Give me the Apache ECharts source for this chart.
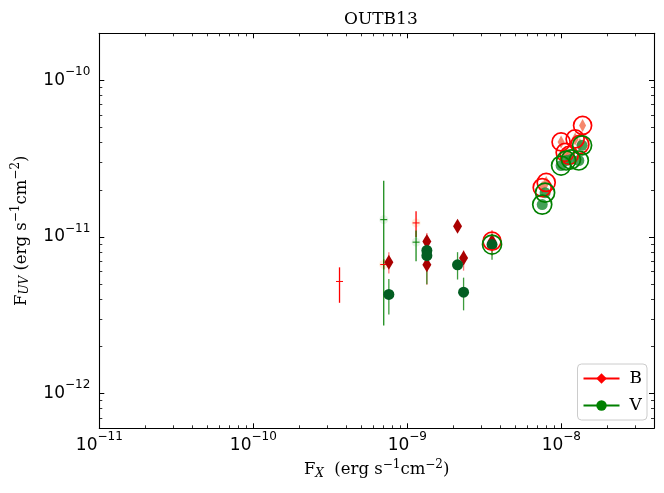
<!DOCTYPE html>
<html>
<head>
<meta charset="utf-8">
<script src="https://cdn.jsdelivr.net/npm/echarts@6/dist/echarts.min.js"></script>
<style>
  html, body { margin: 0; padding: 0; background: #fff; }
  #chart { width: 664px; height: 493px; }
</style>
</head>
<body>
<div id="chart"></div>
<script>
'use strict'

/******************** DATA (fluxes, erg s^-1 cm^-2) ********************/
// B band, detected points (dark diamonds) with error bars
var bX  = [7.59e-10, 1.34e-9, 1.34e-9, 2.12e-9, 2.32e-9, 3.55e-9];
var bY  = [6.9e-12, 9.35e-12, 6.64e-12, 1.17e-11, 7.33e-12, 9.4e-12];
var bLo = [5.85e-12, 8.0e-12, 4.95e-12, 1.08e-11, 6.1e-12, 7.6e-12];
var bHi = [8.0e-12, 1.06e-11, 7.8e-12, 1.27e-11, 8.2e-12, 1.11e-11];

// V band, detected points (dark circles) with error bars
var vX  = [7.59e-10, 1.34e-9, 1.34e-9, 2.12e-9, 2.32e-9, 3.55e-9];
var vY  = [4.3e-12, 8.2e-12, 7.6e-12, 6.64e-12, 4.44e-12, 8.95e-12];
var vLo = [3.2e-12, 6.8e-12, 5.0e-12, 5.35e-12, 3.4e-12, 7.15e-12];
var vHi = [5.4e-12, 1.0e-11, 9.0e-12, 8.0e-12, 5.5e-12, 1.05e-11];

// faint "+" points
var bpX  = [3.63e-10, 7.03e-10, 1.14e-9];
var bpY  = [5.2e-12, 6.67e-12, 1.23e-11];
var bpLo = [3.8e-12, 6.2e-12, 1.0e-11];
var bpHi = [6.4e-12, 7.2e-12, 1.46e-11];

var vpX  = [7.03e-10, 1.14e-9];
var vpY  = [1.29e-11, 9.27e-12];
var vpLo = [2.72e-12, 7.0e-12];
var vpHi = [2.29e-11, 1.1e-11];

// ringed points (the first one of each is also a detected point above)
var brX = [3.55e-9, 7.52e-9, 7.98e-9, 9.97e-9, 1.06e-8, 1.125e-8, 1.23e-8, 1.32e-8, 1.375e-8];
var brY = [9.4e-12, 2.07e-11, 2.23e-11, 4.05e-11, 3.47e-11, 3.32e-11, 4.23e-11, 3.9e-11, 5.16e-11];
var vrX = [3.55e-9, 7.52e-9, 7.85e-9, 9.97e-9, 1.076e-8, 1.156e-8, 1.30e-8, 1.365e-8];
var vrY = [8.95e-12, 1.61e-11, 1.92e-11, 2.86e-11, 3.08e-11, 3.13e-11, 3.08e-11, 3.85e-11];

// axis limits and major ticks (decades)
var xLim = [1e-11, 4e-8];
var yLim = [6e-13, 2e-10];
var xMajor = [-11, -10, -9, -8];
var yMajor = [-12, -11, -10];

/******************** helpers ********************/
var lg = Math.log10;

function pts(xs, ys) {
  return xs.map(function (x, i) { return [lg(x), lg(ys[i])]; });
}
function bars(xs, ys, lo, hi) {
  return xs.map(function (x, i) { return [lg(x), lg(ys[i]), lg(lo[i]), lg(hi[i])]; });
}
function minors(lim) {
  var out = [];
  for (var k = Math.floor(lg(lim[0])); k <= Math.ceil(lg(lim[1])); k++) {
    for (var m = 2; m <= 9; m++) {
      var v = lg(m) + k;
      if (v > lg(lim[0]) && v < lg(lim[1])) out.push(v);
    }
  }
  return out;
}

var SERIF = 'DejaVu Serif';
var SANS = 'DejaVu Sans';

var tickRich = {
  b: { fontSize: 17, fontFamily: SANS, color: '#000', verticalAlign: 'middle' },
  s: { fontSize: 12, fontFamily: SANS, color: '#000', verticalAlign: 'middle', padding: [0, 0, 17, 0] }
};
function tickFmt(v) {
  return '{b|10}{s|\u2212' + Math.abs(Math.round(v)) + '}';
}
var nameRich = {
  n: { fontSize: 16.5, fontFamily: SERIF, color: '#000', verticalAlign: 'middle' },
  sub: { fontSize: 12, fontFamily: SERIF, fontStyle: 'italic', color: '#000', verticalAlign: 'middle', padding: [8, 0, 0, 0] },
  sup: { fontSize: 12, fontFamily: SERIF, color: '#000', verticalAlign: 'middle', padding: [0, 0, 10, 0] }
};

function majorAxis(lim, vals, pos, labels) {
  return {
    type: 'value', position: pos,
    min: lg(lim[0]), max: lg(lim[1]),
    axisLine: { show: true, onZero: false, lineStyle: { color: '#000', width: 1.1 } },
    axisTick: { show: true, inside: true, length: 5, customValues: vals, lineStyle: { color: '#000', width: 1 } },
    axisLabel: labels ? { show: true, customValues: vals, formatter: tickFmt, rich: tickRich, margin: pos === 'bottom' ? 3 : 9 } : { show: false },
    splitLine: { show: false }
  };
}
function minorAxis(lim, pos) {
  return {
    type: 'value', position: pos,
    min: lg(lim[0]), max: lg(lim[1]),
    axisLine: { show: false },
    axisTick: { show: true, inside: true, length: 3, customValues: minors(lim), lineStyle: { color: '#000', width: 0.8 } },
    axisLabel: { show: false },
    splitLine: { show: false }
  };
}

var xAxes = [
  majorAxis(xLim, xMajor, 'bottom', true),
  majorAxis(xLim, xMajor, 'top', false),
  minorAxis(xLim, 'bottom'),
  minorAxis(xLim, 'top')
];
xAxes[0].name = '{n|F}{sub|X}{n|  (erg s}{sup|\u22121}{n|cm}{sup|\u22122}{n|)}';
xAxes[0].nameLocation = 'middle';
xAxes[0].nameGap = 28;
xAxes[0].nameTextStyle = { rich: nameRich };

var yAxes = [
  majorAxis(yLim, yMajor, 'left', true),
  majorAxis(yLim, yMajor, 'right', false),
  minorAxis(yLim, 'left'),
  minorAxis(yLim, 'right')
];
yAxes[0].name = '{n|F}{sub|UV}{n| (erg s}{sup|\u22121}{n|cm}{sup|\u22122}{n|)}';
yAxes[0].nameLocation = 'middle';
yAxes[0].nameGap = 67;
yAxes[0].nameTextStyle = { rich: nameRich };

function errSeries(data, color, width, opacity) {
  return {
    type: 'custom', silent: true,
    data: data,
    encode: { x: 0, y: [1, 2, 3] },
    renderItem: function (params, api) {
      var p1 = api.coord([api.value(0), api.value(2)]);
      var p2 = api.coord([api.value(0), api.value(3)]);
      return {
        type: 'line',
        shape: { x1: p1[0], y1: p1[1], x2: p2[0], y2: p2[1] },
        style: { stroke: color, lineWidth: width, opacity: opacity }
      };
    }
  };
}
function plusSeries(data, color) {
  return {
    type: 'custom', silent: true,
    data: data,
    renderItem: function (params, api) {
      var p = api.coord([api.value(0), api.value(1)]);
      return {
        type: 'line',
        shape: { x1: p[0] - 3.5, y1: p[1], x2: p[0] + 3.5, y2: p[1] },
        style: { stroke: color, lineWidth: 1 }
      };
    }
  };
}
function scatter(data, symbol, size, style, z) {
  return { type: 'scatter', data: data, symbol: symbol, symbolSize: size, itemStyle: style, z: z, silent: true };
}

var chart = echarts.init(document.getElementById('chart'), null, { renderer: 'canvas' });

var option = {
  backgroundColor: '#fff',
  animation: false,
  title: {
    text: 'OUTB13', left: 339, top: 6,
    textStyle: { fontFamily: SERIF, fontSize: 17, fontWeight: 'normal', color: '#000' }
  },
  grid: { left: 99.3, right: 10, top: 33.3, bottom: 64.7, containLabel: false },
  xAxis: xAxes,
  yAxis: yAxes,
  legend: {
    data: ['B', 'V'],
    orient: 'vertical',
    right: 17, bottom: 73,
    itemWidth: 36, itemHeight: 13, itemGap: 10,
    padding: [6, 5, 6, 5],
    backgroundColor: '#fff',
    borderColor: '#cccccc', borderWidth: 1, borderRadius: 4,
    textStyle: { fontFamily: SERIF, fontSize: 17, color: '#000', padding: [0, 0, 0, 5] }
  },
  series: [
    // faint halos round the "+" points
    scatter(pts(bpX.slice(1), bpY.slice(1)), 'circle', 9, { color: '#ffcf9f', opacity: 0.35 }, 1),
    scatter(pts(vpX, vpY), 'circle', 9, { color: '#bfe0bf', opacity: 0.35 }, 1),
    // error bars
    errSeries(bars(bpX, bpY, bpLo, bpHi), '#ff0000', 1.3, 1),
    errSeries(bars(vpX, vpY, vpLo, vpHi), '#008000', 1.3, 0.9),
    errSeries(bars(bX, bY, bLo, bHi), '#ff2020', 1.3, 0.6),
    errSeries(bars(vX, vY, vLo, vHi), '#1a8a1a', 1.3, 0.85),
    plusSeries(pts(bpX, bpY), '#ff0000'),
    plusSeries(pts(vpX, vpY), '#008000'),
    // detected points
    scatter(pts(bX, bY), 'diamond', [9, 15], { color: '#aa0000', opacity: 1 }, 3),
    scatter(pts(vX, vY), 'circle', 11, { color: '#035e22', opacity: 1 }, 4),
    // lighter markers inside the rings (upper right group)
    scatter(pts(brX.slice(1), brY.slice(1)), 'diamond', [7, 13], { color: '#f26a4a', opacity: 0.8 }, 3),
    scatter(pts(vrX.slice(1), vrY.slice(1)), 'circle', 11, { color: '#23913a', opacity: 0.85 }, 4),
    // rings
    scatter(pts(brX, brY), 'circle', 18, { color: 'rgba(0,0,0,0)', borderColor: '#ff0000', borderWidth: 1.7, opacity: 1 }, 5),
    scatter(pts(vrX, vrY), 'circle', 19, { color: 'rgba(0,0,0,0)', borderColor: '#008000', borderWidth: 1.7, opacity: 1 }, 6),
    // legend entries
    {
      name: 'B', type: 'line', data: [], symbol: 'diamond', symbolSize: [8, 15],
      lineStyle: { color: '#ff0000', width: 2 }, itemStyle: { color: '#ff0000' }
    },
    {
      name: 'V', type: 'line', data: [], symbol: 'circle', symbolSize: 11,
      lineStyle: { color: '#008000', width: 2 }, itemStyle: { color: '#008000' }
    }
  ]
};

chart.setOption(option);
</script>
</body>
</html>
